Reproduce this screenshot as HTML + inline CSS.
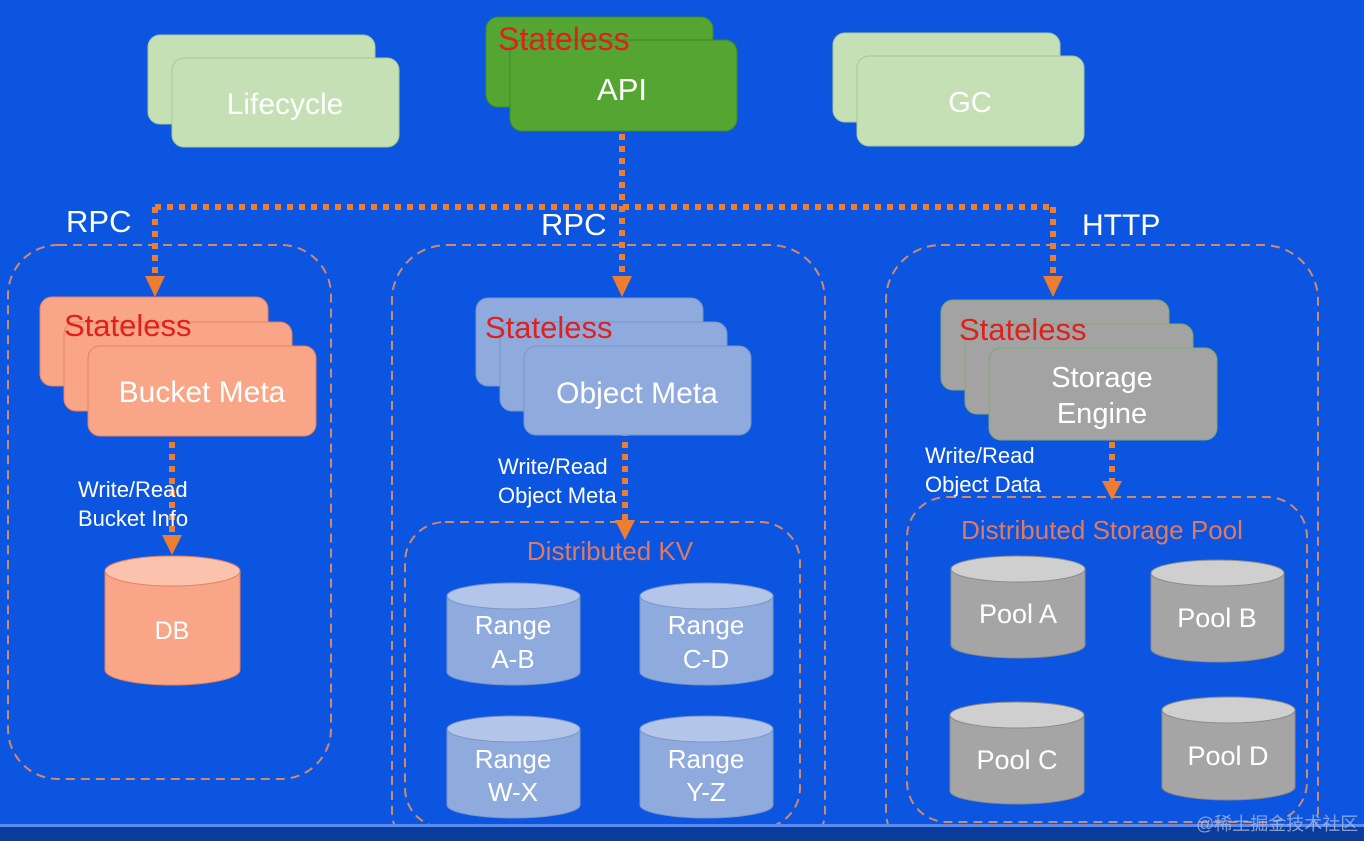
<!DOCTYPE html>
<html><head><meta charset="utf-8"><style>
html,body{margin:0;padding:0;background:#0b55e0;}
svg{display:block;}
text{font-family:"Liberation Sans","Noto Sans CJK SC",sans-serif;}
</style></head><body>
<svg width="1364" height="841" viewBox="0 0 1364 841" xmlns="http://www.w3.org/2000/svg">
<rect width="1364" height="841" fill="#0b55e0"/>

<g fill="none" stroke="#d08a6a" stroke-width="2" stroke-dasharray="9,6">
<rect x="8" y="245" width="323" height="534" rx="50"/>
<rect x="392" y="245" width="433" height="620" rx="55"/>
<rect x="886" y="245" width="432" height="620" rx="55"/>
<rect x="405" y="522" width="395" height="306" rx="40"/>
<rect x="907" y="497" width="400" height="325" rx="40"/>
</g>

<rect x="148" y="35" width="227" height="89" rx="12" fill="#c5e0b4" stroke="#a9c99a"/>
<rect x="172" y="58" width="227" height="89" rx="12" fill="#c5e0b4" stroke="#a9c99a"/>
<text x="285" y="114" font-size="30" fill="#ffffff" text-anchor="middle">Lifecycle</text>

<rect x="486" y="17" width="227" height="90" rx="12" fill="#55a532" stroke="#3f8a24"/>
<rect x="510" y="40" width="227" height="91" rx="12" fill="#55a532" stroke="#3f8a24"/>
<text x="498" y="50" font-size="32" fill="#e0201c">Stateless</text>
<text x="622" y="100" font-size="31" fill="#ffffff" text-anchor="middle">API</text>

<rect x="833" y="33" width="227" height="89" rx="12" fill="#c5e0b4" stroke="#a9c99a"/>
<rect x="857" y="56" width="227" height="90" rx="12" fill="#c5e0b4" stroke="#a9c99a"/>
<text x="970" y="112" font-size="29" fill="#ffffff" text-anchor="middle">GC</text>

<g stroke="#ed7d31" stroke-width="6" stroke-dasharray="6,6" fill="none">
<line x1="155" y1="207" x2="1053" y2="207"/>
<line x1="622" y1="134" x2="622" y2="278"/>
<line x1="155" y1="207" x2="155" y2="278"/>
<line x1="1053" y1="207" x2="1053" y2="278"/>
<line x1="172" y1="442" x2="172" y2="538"/>
<line x1="625" y1="430" x2="625" y2="522"/>
<line x1="1112" y1="442" x2="1112" y2="484"/>
</g>
<g fill="#ed7d31">
<polygon points="145,276 165,276 155,297"/>
<polygon points="612,276 632,276 622,297"/>
<polygon points="1043,276 1063,276 1053,297"/>
<polygon points="162,535 182,535 172,555"/>
<polygon points="615,520 635,520 625,540"/>
<polygon points="1102,481 1122,481 1112,500"/>
</g>

<text x="66" y="232" font-size="31" fill="#ffffff">RPC</text>
<text x="541" y="235" font-size="31" fill="#ffffff">RPC</text>
<text x="1082" y="235" font-size="30" fill="#ffffff">HTTP</text>

<g fill="#f8a687" stroke="#e8805c">
<rect x="40" y="297" width="228" height="89" rx="12"/>
<rect x="64" y="322" width="228" height="89" rx="12"/>
<rect x="88" y="346" width="228" height="90" rx="12"/>
</g>
<text x="64" y="336" font-size="31" fill="#e0201c">Stateless</text>
<text x="202" y="402" font-size="30" fill="#ffffff" text-anchor="middle">Bucket Meta</text>
<text x="78" y="497" font-size="22" fill="#ffffff">Write/Read</text>
<text x="78" y="526" font-size="22" fill="#ffffff">Bucket Info</text>
<path d="M105,571 L105,670 A67.5,15 0 0 0 240,670 L240,571 Z" fill="#f8a687" stroke="#e8805c"/>
<ellipse cx="172.5" cy="571" rx="67.5" ry="15" fill="#fbc3ad" stroke="#e8805c"/>
<text x="172" y="639" font-size="25" fill="#ffffff" text-anchor="middle">DB</text>

<g fill="#8faadc" stroke="#7a95c8">
<rect x="476" y="298" width="227" height="88" rx="12"/>
<rect x="500" y="322" width="227" height="89" rx="12"/>
<rect x="524" y="346" width="227" height="89" rx="12"/>
</g>
<text x="485" y="338" font-size="31" fill="#e0201c">Stateless</text>
<text x="637" y="403" font-size="30" fill="#ffffff" text-anchor="middle">Object Meta</text>
<text x="498" y="474" font-size="22" fill="#ffffff">Write/Read</text>
<text x="498" y="503" font-size="22" fill="#ffffff">Object Meta</text>
<text x="610" y="560" font-size="26" fill="#e07a5f" text-anchor="middle">Distributed KV</text>

<g fill="#8faadc" stroke="#7a95c8">
<path d="M447,596 L447,672 A66.5,13 0 0 0 580,672 L580,596 Z"/>
<path d="M640,596 L640,672 A66.5,13 0 0 0 773,672 L773,596 Z"/>
<path d="M447,729 L447,805 A66.5,13 0 0 0 580,805 L580,729 Z"/>
<path d="M640,729 L640,805 A66.5,13 0 0 0 773,805 L773,729 Z"/>
</g>
<g fill="#b3c5e8" stroke="#7a95c8">
<ellipse cx="513.5" cy="596" rx="66.5" ry="13"/>
<ellipse cx="706.5" cy="596" rx="66.5" ry="13"/>
<ellipse cx="513.5" cy="729" rx="66.5" ry="13"/>
<ellipse cx="706.5" cy="729" rx="66.5" ry="13"/>
</g>
<g font-size="26" fill="#ffffff" text-anchor="middle">
<text x="513" y="634">Range</text><text x="513" y="668">A-B</text>
<text x="706" y="634">Range</text><text x="706" y="668">C-D</text>
<text x="513" y="768">Range</text><text x="513" y="801">W-X</text>
<text x="706" y="768">Range</text><text x="706" y="801">Y-Z</text>
</g>

<g fill="#a3a3a3" stroke="#7fa870">
<rect x="941" y="300" width="228" height="90" rx="12"/>
<rect x="965" y="324" width="228" height="90" rx="12"/>
<rect x="989" y="348" width="228" height="92" rx="12"/>
</g>
<text x="959" y="340" font-size="31" fill="#e0201c">Stateless</text>
<text x="1102" y="387" font-size="29" fill="#ffffff" text-anchor="middle">Storage</text>
<text x="1102" y="423" font-size="29" fill="#ffffff" text-anchor="middle">Engine</text>
<text x="925" y="463" font-size="22" fill="#ffffff">Write/Read</text>
<text x="925" y="492" font-size="22" fill="#ffffff">Object Data</text>
<text x="1102" y="539" font-size="26" fill="#e07a5f" text-anchor="middle">Distributed Storage Pool</text>

<g fill="#a5a5a5" stroke="#8a8a8a">
<path d="M951,569 L951,645 A67,13 0 0 0 1085,645 L1085,569 Z"/>
<path d="M1151,573 L1151,649 A66.5,13 0 0 0 1284,649 L1284,573 Z"/>
<path d="M950,715 L950,791 A67,13 0 0 0 1084,791 L1084,715 Z"/>
<path d="M1162,710 L1162,787 A66.5,13 0 0 0 1295,787 L1295,710 Z"/>
</g>
<g fill="#cfcfcf" stroke="#8a8a8a">
<ellipse cx="1018" cy="569" rx="67" ry="13"/>
<ellipse cx="1217.5" cy="573" rx="66.5" ry="13"/>
<ellipse cx="1017" cy="715" rx="67" ry="13"/>
<ellipse cx="1228.5" cy="710" rx="66.5" ry="13"/>
</g>
<g font-size="27" fill="#ffffff" text-anchor="middle">
<text x="1018" y="623">Pool A</text>
<text x="1217" y="627">Pool B</text>
<text x="1017" y="769">Pool C</text>
<text x="1228" y="765">Pool D</text>
</g>

<rect x="0" y="826" width="1364" height="15" fill="#0a3c9e"/>
<rect x="0" y="824" width="1364" height="3" fill="#5a8cf0"/>
<text x="1196" y="830" font-size="18" fill="#a8b8e0" opacity="0.8">@稀土掘金技术社区</text>
</svg>
</body></html>
